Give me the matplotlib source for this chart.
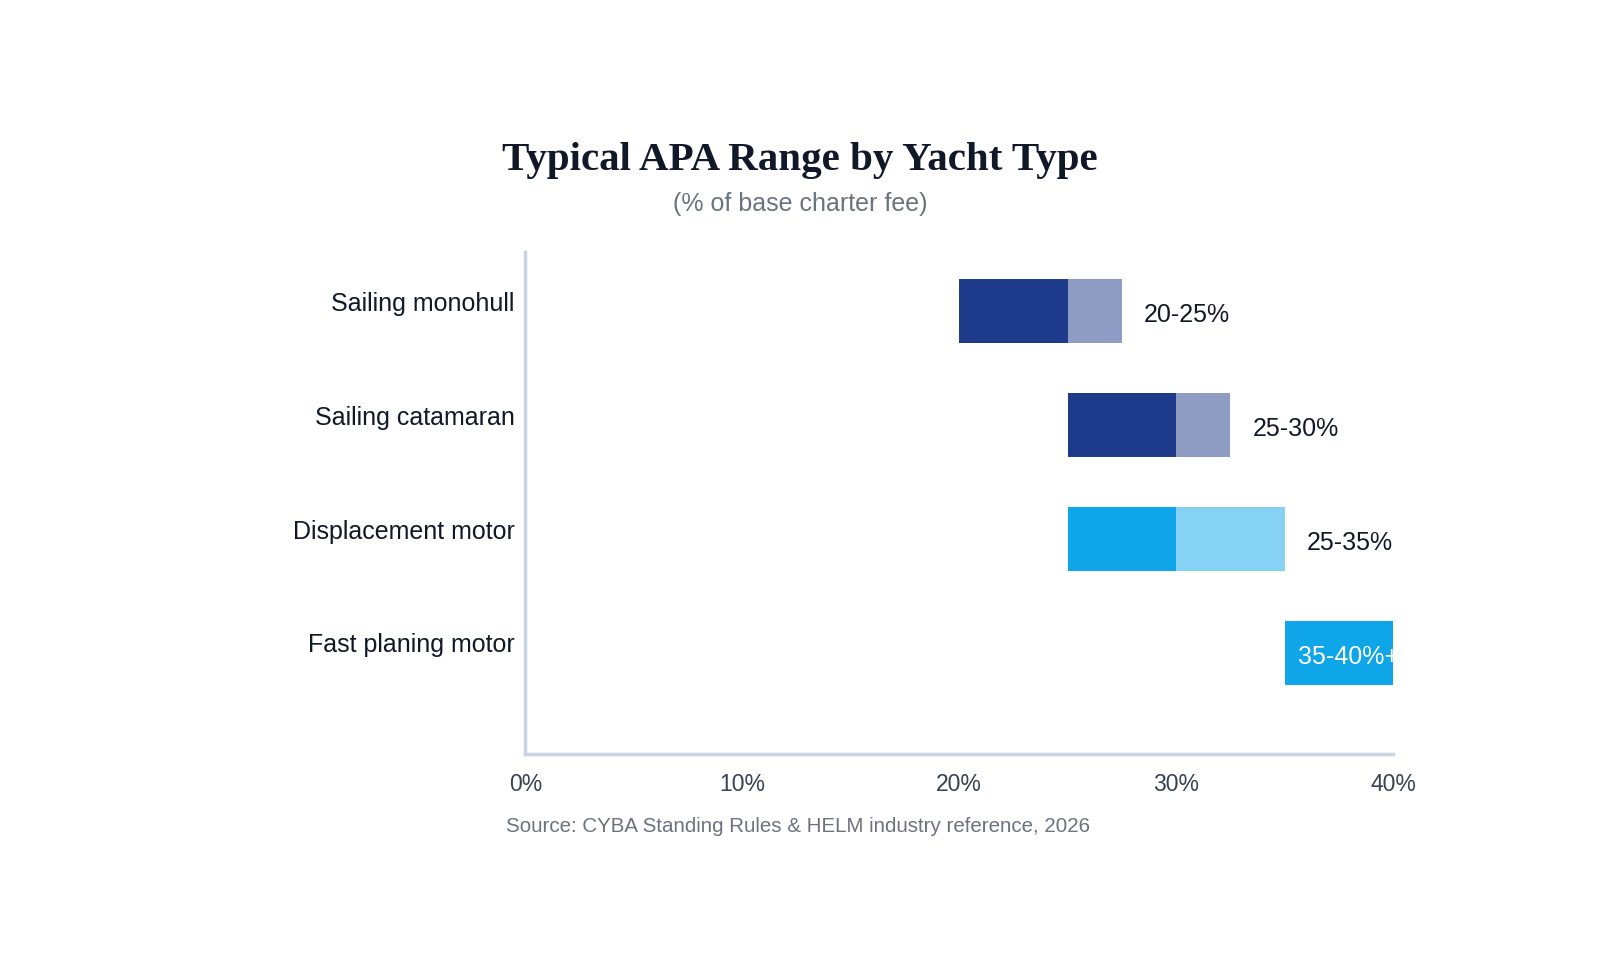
import matplotlib
matplotlib.use('Agg')
import matplotlib.pyplot as plt
from matplotlib.transforms import ScaledTranslation

# data
yacht_types = ['Sailing monohull', 'Sailing catamaran', 'Displacement motor', 'Fast planing motor']
range_start = [20, 25, 25, 35]
core_width = [5, 5, 5, 5]
extra_width = [2.5, 2.5, 5, 5]
range_labels = ['20-25%', '25-30%', '25-35%', '35-40%+']
core_colors = ['#1e3a8a', '#1e3a8a', '#0ea5e9', '#0ea5e9']
extra_colors = ['#8e9cc4', '#8e9cc4', '#86d2f4', '#86d2f4']
x_ticks = [0, 10, 20, 30, 40]

plt.rcParams['font.family'] = ['Liberation Sans', 'DejaVu Sans']

fig = plt.figure(figsize=(16, 9.6), dpi=100)
ax = fig.add_axes([0.3284, 0.2146, 0.5422, 0.5229])

ypos = list(range(len(yacht_types)))
ax.barh(ypos, core_width, left=range_start, height=0.56, color=core_colors, zorder=2)
ext_left = [s + c for s, c in zip(range_start, core_width)]
ax.barh(ypos, extra_width, left=ext_left, height=0.56, color=extra_colors, zorder=2)

ax.set_xlim(0, 40)
ax.set_ylim(3.886, -0.518)

# value labels
for i, lab in enumerate(range_labels):
    end = range_start[i] + core_width[i] + extra_width[i]
    if end > 40:
        off = ScaledTranslation(13 / 100, -4 / 100, fig.dpi_scale_trans)
        ax.text(range_start[i], i, lab, color='white', fontsize=18, va='center', ha='left',
                transform=ax.transData + off, clip_on=True, zorder=3)
    else:
        off = ScaledTranslation(22 / 100, -4 / 100, fig.dpi_scale_trans)
        ax.text(end, i, lab, color='#111827', fontsize=18, va='center', ha='left',
                transform=ax.transData + off, zorder=3)

# category labels, sitting a little above the bar centres
ax.set_yticks([])
cat_off = ScaledTranslation(-11 / 100, 7.5 / 100, fig.dpi_scale_trans)
for i, name in enumerate(yacht_types):
    ax.text(0, i, name, fontsize=18, color='#111827', ha='right', va='center',
            transform=ax.get_yaxis_transform() + cat_off)

ax.set_xticks(x_ticks)
ax.set_xticklabels([f'{t}%' for t in x_ticks], fontsize=16.5, color='#374151')
ax.tick_params(axis='both', length=0)
ax.tick_params(axis='x', pad=14)

for side in ['top', 'right']:
    ax.spines[side].set_visible(False)
for side in ['left', 'bottom']:
    ax.spines[side].set_color('#cbd5e1')
    ax.spines[side].set_linewidth(2.5)

fig.text(0.5, 0.8325, 'Typical APA Range by Yacht Type', ha='center', va='center',
         fontsize=29.5, fontweight='bold', family='Liberation Serif', color='#111827')
fig.text(0.5, 0.788, '(% of base charter fee)', ha='center', va='center',
         fontsize=18, color='#6b7280')
fig.text(0.316, 0.139, 'Source: CYBA Standing Rules & HELM industry reference, 2026',
         ha='left', va='center', fontsize=14.8, color='#6b7280')

plt.savefig('out.png', dpi=100)
